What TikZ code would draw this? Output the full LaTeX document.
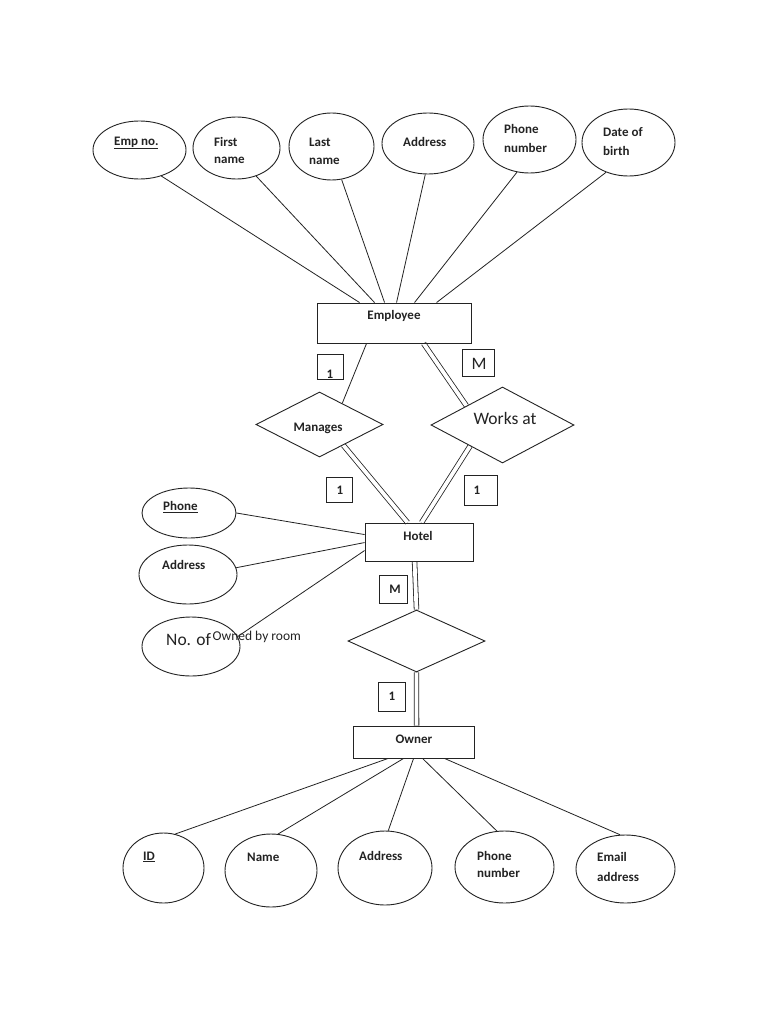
\documentclass[tikz,border=0pt]{standalone}
\usepackage{fontspec}
\setmainfont{Carlito}
\usetikzlibrary{shapes.geometric,backgrounds}
\definecolor{ink}{RGB}{35,35,35}
\begin{document}
\begin{tikzpicture}[x=1pt,y=-1pt,
  attr/.style={draw=ink,line width=0.9pt,ellipse,inner sep=0pt},
  ent/.style={draw=ink,line width=0.9pt,rectangle,inner sep=0pt},
  rel/.style={draw=ink,line width=0.9pt,diamond,inner sep=0pt},
  lbl/.style={font=\fontsize{13}{18}\selectfont\bfseries,inner sep=0pt,align=left,text=ink},
  big/.style={font=\fontsize{17.5}{20}\selectfont,inner sep=0pt,text=ink},
  small/.style={font=\fontsize{13.5}{16}\selectfont,inner sep=0pt,text=ink},
  card/.style={draw=ink,line width=0.8pt,rectangle,inner sep=0pt},
  conn/.style={draw=ink,line width=0.8pt},
  dconn/.style={draw=ink,line width=0.8pt,double=white,double distance=3.8pt},
]
\useasboundingbox (0,0) rectangle (768,1024);

% ---------- entities ----------
\node[ent,minimum width=154pt,minimum height=40pt] (employee) at (394,323) {};
\node[lbl] (employeeT) at (394,316) {Employee};
\node[ent,minimum width=108pt,minimum height=38pt] (hotel) at (419,542) {};
\node[lbl] (hotelT) at (418,536) {Hotel};
\node[ent,minimum width=121pt,minimum height=32pt] (owner) at (413.5,742) {};
\node[lbl] (ownerT) at (414,739) {Owner};

% ---------- relationships ----------
\node[rel,minimum width=127pt,minimum height=65pt] (manages) at (319.5,424.5) {};
\node[lbl] (managesT) at (318,428) {Manages};
\node[rel,minimum width=143pt,minimum height=76pt] (works) at (502.5,425) {};
\node[big] (worksT) at (505,418) {Works at};
\node[rel,minimum width=137pt,minimum height=62pt] (owned) at (416.5,641) {};

% ---------- employee attributes ----------
\node[attr,minimum width=93pt,minimum height=58pt] (empno) at (139.5,150) {};
\node[lbl,anchor=west] (empnoT) at (114,143) {\underline{Emp no.}};
\node[attr,minimum width=87pt,minimum height=62pt] (first) at (236.5,148) {};
\node[lbl,anchor=west] (firstT) at (214,150.5) {First\\[-1pt]name};
\node[attr,minimum width=85pt,minimum height=67pt] (last) at (331.5,146.5) {};
\node[lbl,anchor=west] (lastT) at (309,151) {Last\\name};
\node[attr,minimum width=92pt,minimum height=61pt] (addr1) at (428,143.5) {};
\node[lbl,anchor=west] (addr1T) at (403,142) {Address};
\node[attr,minimum width=93pt,minimum height=67pt] (phone1) at (529.5,139.5) {};
\node[lbl,anchor=west] (phone1T) at (504,138.5) {Phone\\[1pt]number};
\node[attr,minimum width=93pt,minimum height=67pt] (dob) at (628.5,142.5) {};
\node[lbl,anchor=west] (dobT) at (603,141.5) {Date of\\[1pt]birth};

% ---------- hotel attributes ----------
\node[attr,minimum width=94pt,minimum height=50pt] (phone2) at (189,513) {};
\node[lbl,anchor=west] (phone2T) at (163,507) {\underline{Phone}};
\node[attr,minimum width=98pt,minimum height=59pt] (addr2) at (188,574.5) {};
\node[lbl,anchor=west] (addr2T) at (162,565) {Address};
\node[attr,minimum width=98pt,minimum height=59pt] (noof) at (191,646.5) {};
\node[big,anchor=west] (noofT) at (166,640) {No. of};
\node[small,anchor=west] (ownedT) at (212.5,637) {Owned by room};

% ---------- owner attributes ----------
\node[attr,minimum width=81pt,minimum height=70pt] (id) at (163.5,868) {};
\node[lbl,anchor=west] (idT) at (143,857) {\underline{ID}};
\node[attr,minimum width=92pt,minimum height=73pt] (name) at (271,870.5) {};
\node[lbl,anchor=west] (nameT) at (247,857) {Name};
\node[attr,minimum width=94pt,minimum height=74pt] (addr3) at (385,868) {};
\node[lbl,anchor=west] (addr3T) at (359,856) {Address};
\node[attr,minimum width=99pt,minimum height=72pt] (phone3) at (504.5,867) {};
\node[lbl,anchor=west] (phone3T) at (477,864.5) {Phone\\[-1pt]number};
\node[attr,minimum width=99pt,minimum height=68pt] (email) at (625.5,869) {};
\node[lbl,anchor=west] (emailT) at (597,867) {Email\\[2pt]address};

% ---------- cardinalities ----------
\node[card,minimum width=26pt,minimum height=25pt] (c1) at (330,366.5) {};
\node[lbl] (c1T) at (330,374) {1};
\node[card,minimum width=32pt,minimum height=27pt] (c2) at (478,362.5) {};
\node[big] (c2T) at (479,364) {M};
\node[card,minimum width=26pt,minimum height=25pt] (c3) at (339,489.5) {};
\node[lbl] (c3T) at (340,490) {1};
\node[card,minimum width=33pt,minimum height=30pt] (c4) at (480.5,490) {};
\node[lbl] (c4T) at (477,490) {1};
\node[card,minimum width=28pt,minimum height=28pt] (c5) at (393,589) {};
\node[lbl] (c5T) at (395,589) {M};
\node[card,minimum width=27pt,minimum height=29pt] (c6) at (391.5,696.5) {};
\node[lbl] (c6T) at (392,696) {1};

% ---------- connectors ----------
\begin{scope}[on background layer]
\fill[white] (0,0) rectangle (768,1024);
\draw[conn] (empno.-50) -- ([xshift=43pt]employee.north west);
\draw[conn] (first.-55) -- ([xshift=58pt]employee.north west);
\draw[conn] (last.-73) -- ([xshift=68pt]employee.north west);
\draw[conn] (addr1.-95) -- ([xshift=80pt]employee.north west);
\draw[conn] (phone1.-111) -- ([xshift=98pt]employee.north west);
\draw[conn] (dob.-127) -- ([xshift=120pt]employee.north west);

\draw[conn] ([xshift=50pt]employee.south west) -- (manages.43);
\draw[dconn] ([xshift=107pt]employee.south west) -- (works.152);
\draw[dconn] (manages.-41) -- ([xshift=43pt]hotel.north west);
\draw[dconn] (works.-147) -- ([xshift=57pt]hotel.north west);
\draw[dconn] ([xshift=50pt]hotel.south west) -- (owned.north);
\draw[dconn] (owned.south) -- ([xshift=64pt]owner.north west);

\draw[conn] (phone2.0) -- ([yshift=-12pt]hotel.north west);
\draw[conn] (addr2.8) -- ([yshift=-20pt]hotel.north west);
\draw[conn] (noof.12) -- ([yshift=-28pt]hotel.north west);

\draw[conn] (id.71) -- ([xshift=35.5pt]owner.south west);
\draw[conn] (name.79) -- ([xshift=51pt]owner.south west);
\draw[conn] (addr3.85) -- ([xshift=61pt]owner.south west);
\draw[conn] (phone3.102) -- ([xshift=70pt]owner.south west);
\draw[conn] (email.99) -- ([xshift=92pt]owner.south west);
\end{scope}
\end{tikzpicture}
\end{document}
